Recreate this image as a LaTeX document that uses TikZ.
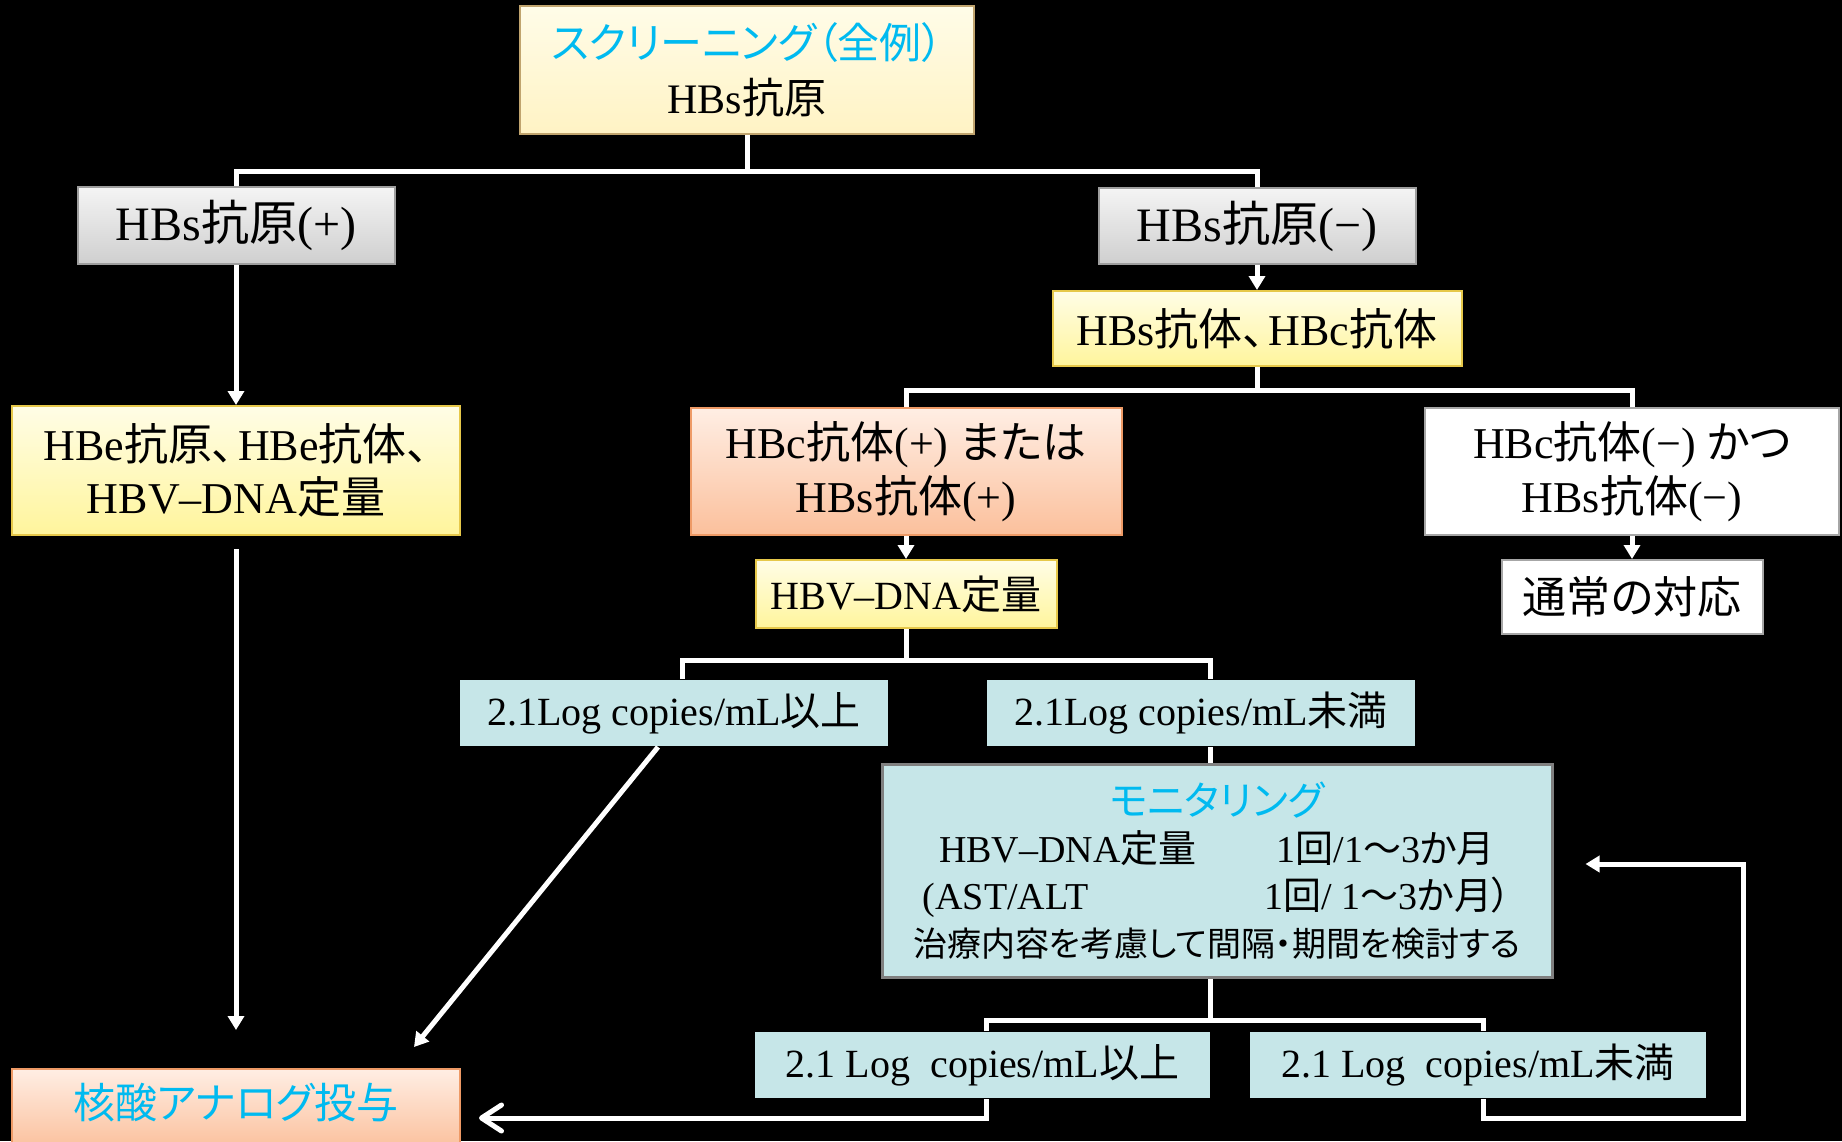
\documentclass[tikz,border=0pt]{standalone}
\usepackage{fontspec}
\setmainfont{Liberation Serif}
\newfontfamily\jpf[RawFeature=+palt]{Noto Sans CJK JP}
\newcommand\J[1]{{\jpf #1}}
\usetikzlibrary{arrows.meta}
\definecolor{cyanT}{RGB}{0,186,240}
\definecolor{yelT}{HTML}{FFFDE6}
\definecolor{yelB}{HTML}{FFF59C}
\definecolor{yelD}{HTML}{E6C84A}
\definecolor{topT}{HTML}{FFFCE8}
\definecolor{topB}{HTML}{FFF3C4}
\definecolor{topD}{HTML}{C0A46E}
\definecolor{grT}{HTML}{F4F4F4}
\definecolor{grB}{HTML}{CFCFCF}
\definecolor{grD}{HTML}{9E9E9E}
\definecolor{peT}{HTML}{FFEEE4}
\definecolor{peB}{HTML}{FBC09C}
\definecolor{peD}{HTML}{EE9A66}
\definecolor{cyF}{HTML}{C6E6E8}
\definecolor{monD}{HTML}{808080}
\definecolor{whD}{HTML}{A6A6A6}
\tikzset{
  bx/.style={rectangle, inner sep=0pt, align=center, line width=1pt},
  topbox/.style={bx, draw=topD, top color=topT, bottom color=topB},
  yelbox/.style={bx, draw=yelD, top color=yelT, bottom color=yelB},
  graybox/.style={bx, draw=grD, top color=grT, bottom color=grB},
  peachbox/.style={bx, draw=peD, top color=peT, bottom color=peB},
  whitebox/.style={bx, draw=whD, fill=white},
  cyanbox/.style={bx, fill=cyF},
  monbox/.style={bx, fill=cyF, draw=monD, line width=1.5pt},
  wl/.style={draw=white, line width=2.5pt},
  arr/.style={wl, -{Triangle[length=7pt,width=8pt]}},
  barb/.style={wl, -{Straight Barb[length=10pt,width=13pt,round]}},
}
\begin{document}
\begin{tikzpicture}[x=0.5pt,y=-0.5pt]
\fill[black] (0,0) rectangle (1842,1141);
\useasboundingbox (0,0) rectangle (1842,1141);
\begin{scope}
\clip (0,0) rectangle (1842,1141);
% boxes
\node[topbox, minimum width=227pt, minimum height=64pt, font=\fontsize{21}{27.5}\selectfont] (top) at (747,70)
  {\textcolor{cyanT}{\J{スクリーニング（全例）}}\\HBs\J{抗原}};
\node[graybox, minimum width=158.5pt, minimum height=38.5pt, font=\fontsize{24}{28}\selectfont] (hbsP) at (236,225.5)
  {HBs\J{抗原}(+)};
\node[graybox, minimum width=158.5pt, minimum height=38pt, font=\fontsize{24}{28}\selectfont] (hbsN) at (1257,226)
  {HBs\J{抗原}(−)};
\node[yelbox, minimum width=204.5pt, minimum height=37.5pt, font=\fontsize{22}{26}\selectfont] (hbsab) at (1257,328.5)
  {HBs\J{抗体、}\hspace{2pt}HBc\J{抗体}};
\node[yelbox, minimum width=224pt, minimum height=64.5pt, font=\fontsize{22}{26.5}\selectfont] (hbe) at (236,470.5)
  {HBe\J{抗原、}\hspace{2pt}HBe\J{抗体、}\\HBV–DNA\J{定量}};
\node[peachbox, minimum width=215.5pt, minimum height=63.5pt, font=\fontsize{22}{27}\selectfont] (hbcP) at (906,471.5)
  {HBc\J{抗体}(+) \J{または}\\HBs\J{抗体}(+)};
\node[whitebox, minimum width=207pt, minimum height=63.5pt, font=\fontsize{22}{27}\selectfont] (hbcN) at (1632,471.5)
  {HBc\J{抗体}(−) \J{かつ}\\HBs\J{抗体}(−)};
\node[yelbox, minimum width=150.5pt, minimum height=34pt, font=\fontsize{20}{24}\selectfont] (dna) at (906,594)
  {HBV–DNA\J{定量}};
\node[whitebox, minimum width=130.5pt, minimum height=37pt, font=\fontsize{22}{26}\selectfont] (usual) at (1632,597)
  {\J{通常の対応}};
\node[cyanbox, minimum width=214pt, minimum height=33pt, font=\fontsize{20}{24}\selectfont] (ge1) at (674,713)
  {2.1Log copies/mL\J{以上}};
\node[cyanbox, minimum width=214pt, minimum height=33pt, font=\fontsize{20}{24}\selectfont] (lt1) at (1201,713)
  {2.1Log copies/mL\J{未満}};
\node[monbox, minimum width=335pt, minimum height=106.5pt, font=\fontsize{19}{23.5}\selectfont] (mon) at (1217,870.5)
  {\fontsize{20}{23.5}\selectfont\textcolor{cyanT}{\J{モニタリング}}\\
   \fontsize{19}{23.5}\selectfont HBV–DNA\J{定量}\hspace{40pt}1\J{回}/1\J{〜}3\J{か月}\\
   \fontsize{19}{23.5}\selectfont (AST/ALT\hspace{88pt}1\J{回}/ 1\J{〜}3\J{か月}\J{）}\\
   \fontsize{17}{23.5}\selectfont\J{治療内容を考慮して間隔・期間を検討する}};
\node[cyanbox, minimum width=227.5pt, minimum height=33pt, font=\fontsize{20}{24}\selectfont] (ge2) at (982.5,1065)
  {2.1 Log\ \ copies/mL\J{以上}};
\node[cyanbox, minimum width=228pt, minimum height=33pt, font=\fontsize{20}{24}\selectfont] (lt2) at (1478,1065)
  {2.1 Log\ \ copies/mL\J{未満}};
\node[peachbox, minimum width=224pt, minimum height=40pt] (nuc) at (236,1109) {};
\node[font=\fontsize{21}{24}\selectfont, text=cyanT, inner sep=0pt] (nucT) at (236,1103) {\J{核酸アナログ投与}};
% junctions
\coordinate (j1) at (747,171);
\coordinate (j2) at (1257,390);
\coordinate (j3) at (906,660);
\coordinate (j3a) at (682,660);
\coordinate (j3b) at (1210,660);
\coordinate (j4) at (1210,1020);
\coordinate (j4a) at (986,1020);
\coordinate (j4b) at (1483,1020);
\coordinate (r1) at (986,1118);
\coordinate (r2) at (1483,1118);
\coordinate (r3) at (1743,1118);
\coordinate (r4) at (1743,864);
\coordinate (d0) at (658,0);
\coordinate (tipD) at (414,1047);
% connectors
\draw[wl] (top.south) -- (j1);
\draw[wl] (hbsP.north) |- (j1) -| (hbsN.north);
\draw[arr] (hbsP.south) -- (hbe.north);
\draw[arr] (hbsN.south) -- (hbsab.north);
\draw[wl] (hbsab.south) -- (j2);
\draw[wl] (hbcP.north) |- (j2) -| (hbcN.north);
\draw[arr] (hbcP.south) -- (dna.north);
\draw[arr] (hbcN.south) -- (usual.north);
\draw[wl] (dna.south) -- (j3);
\draw[wl] (j3a |- ge1.north) -- (j3a) -- (j3b) -- (j3b |- lt1.north);
\draw[wl] (j3b |- lt1.south) -- (j3b |- mon.north);
\draw[wl] (j4 |- mon.south) -- (j4);
\draw[wl] (j4a |- ge2.north) -- (j4a) -- (j4b) -- (j4b |- lt2.north);
\draw[barb, shorten >=9pt] (j4a |- ge2.south) -- (r1) -- (nuc.east |- r1);
\draw[arr, shorten >=16pt] (j4b |- lt2.south) -- (r2) -- (r3) -- (r4) -- (mon.east |- r4);
\draw[arr] (ge1.south -| d0) -- (tipD);
\draw[arr, shorten <=6.5pt, shorten >=19pt] (hbe.south) -- (nuc.north);
\end{scope}
\end{tikzpicture}
\end{document}
